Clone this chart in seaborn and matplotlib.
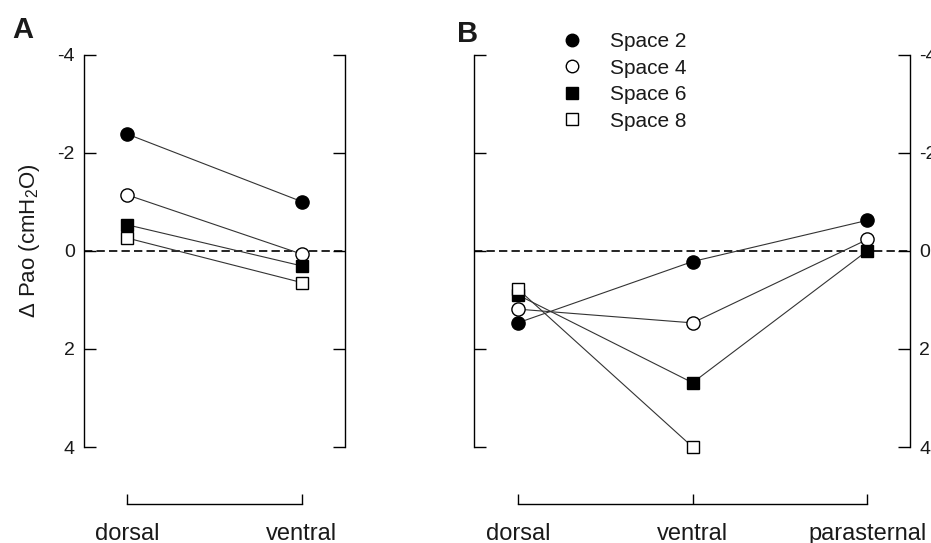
import numpy as np
import pandas as pd
import matplotlib
matplotlib.use("Agg")
import matplotlib.pyplot as plt
import seaborn as sns
from matplotlib.lines import Line2D

# ---- data ----
sites_a = ["dorsal", "ventral"]
sites_b = ["dorsal", "ventral", "parasternal"]
series = ["Space 2", "Space 4", "Space 6", "Space 8"]

a_space2 = [-2.38, -1.00]
a_space4 = [-1.14, 0.07]
a_space6 = [-0.53, 0.31]
a_space8 = [-0.26, 0.65]

b_space2 = [1.47, 0.22, -0.62]
b_space4 = [1.19, 1.47, -0.23]
b_space6 = [0.90, 2.69, 0.00]
b_space8 = [0.78, 4.00, np.nan]

yticks = [-4, -2, 0, 2, 4]
ytick_labels = ["-4", "-2", "0", "2", "4"]
ylabel = r"Δ Pao (cmH$_2$O)"

# ---- style ----
sns.set_theme(style="ticks")
plt.rcParams["font.family"] = ["Liberation Sans", "DejaVu Sans"]
plt.rcParams["mathtext.default"] = "regular"
TXT = "#1a1a1a"

markers = {"Space 2": "o", "Space 4": "o", "Space 6": "s", "Space 8": "s"}
faces = {"Space 2": "black", "Space 4": "white", "Space 6": "black", "Space 8": "white"}
msize = {"Space 2": 9.5, "Space 4": 9.5, "Space 6": 8.5, "Space 8": 8.5}


def long_df(sites, vals):
    rows = []
    for s, v in zip(series, vals):
        for i, (site, y) in enumerate(zip(sites, v)):
            rows.append({"series": s, "site": site, "pos": i, "value": y})
    return pd.DataFrame(rows)


df_a = long_df(sites_a, [a_space2, a_space4, a_space6, a_space8])
df_b = long_df(sites_b, [b_space2, b_space4, b_space6, b_space8])

fig = plt.figure(figsize=(9.31, 5.43), dpi=100)
bottom = 1 - 447 / 543
height = (447 - 54.5) / 543
ax_a = fig.add_axes([84 / 931, bottom, (345 - 84) / 931, height])
ax_b = fig.add_axes([474.3 / 931, bottom, (910 - 474.3) / 931, height])


def draw(ax, df, sites, xlim, labelside):
    ax.axhline(0, color="black", lw=1.2, ls=(0, (5, 2.5)), zorder=1)
    for s in series:
        d = df[df["series"] == s].dropna()
        sns.lineplot(data=d, x="pos", y="value", ax=ax, sort=False,
                     color="#333333", linewidth=0.8, marker=markers[s],
                     markersize=msize[s], markerfacecolor=faces[s],
                     markeredgecolor="black", markeredgewidth=1.0,
                     legend=False, zorder=3, clip_on=False)
    ax.set_ylim(4, -4)
    ax.set_xlim(*xlim)
    ax.set_yticks(yticks)
    ax.set_yticklabels(ytick_labels)
    ax.set_xticks(range(len(sites)))
    ax.set_xticklabels(sites)
    ax.set_xlabel("")
    ax.set_ylabel("")
    for sp in ["left", "right", "bottom"]:
        ax.spines[sp].set_visible(True)
        ax.spines[sp].set_linewidth(1.0)
        ax.spines[sp].set_color("black")
    ax.spines["top"].set_visible(False)
    ax.spines["bottom"].set_position(("outward", 41))
    ax.spines["bottom"].set_bounds(0, len(sites) - 1)
    ax.tick_params(axis="y", which="both", left=True, right=True,
                   direction="in", length=8.5, width=1.0, color="black",
                   labelleft=(labelside == "left"),
                   labelright=(labelside == "right"),
                   labelsize=14, labelcolor=TXT, pad=6.5)
    ax.tick_params(axis="x", direction="in", length=7.5, width=1.0,
                   color="black", labelsize=17, labelcolor=TXT, pad=13.5)


draw(ax_a, df_a, sites_a, (-0.246, 1.246), "left")
draw(ax_b, df_b, sites_b, (-0.249, 2.244), "right")

fig.text(30 / 931, 1 - 241 / 543, ylabel, rotation=90, ha="center",
         va="center", fontsize=16, color=TXT)

fig.text(12 / 931, 1 - 30 / 543, "A", fontsize=21, fontweight="bold",
         color=TXT, ha="left", va="center")
fig.text(457 / 931, 1 - 34 / 543, "B", fontsize=21, fontweight="bold",
         color=TXT, ha="left", va="center")

handles = [Line2D([], [], ls="none", marker=markers[s], markersize=msize[s] - 0.5,
                  markerfacecolor=faces[s], markeredgecolor="black",
                  markeredgewidth=1.0) for s in series]
ax_b.legend(handles, series, loc="upper left", bbox_to_anchor=(0.1815, 1.078),
            frameon=False, fontsize=15, handlelength=1.0, handletextpad=1.3,
            labelspacing=0.36, borderaxespad=0, labelcolor=TXT)

fig.savefig("out.png", dpi=100)
